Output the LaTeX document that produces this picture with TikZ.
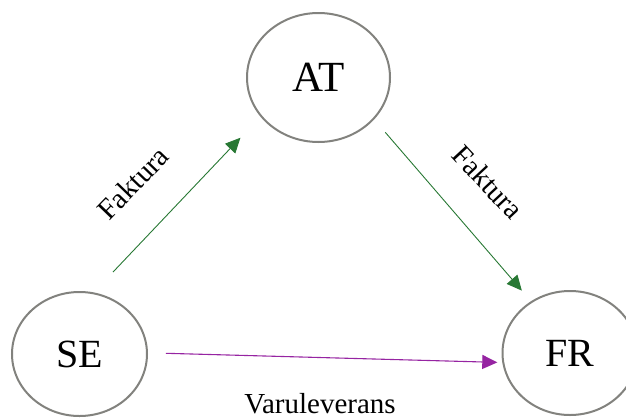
\documentclass[tikz,border=0pt]{standalone}
\usepackage{fontspec}
\setmainfont{Liberation Serif}
\usetikzlibrary{arrows.meta,shapes.geometric}

\definecolor{fakturagreen}{RGB}{40,120,52}
\definecolor{varupurple}{RGB}{150,36,162}
\definecolor{ringgray}{RGB}{130,130,126}

\begin{document}
\begin{tikzpicture}[x=1pt,y=-1pt,
    land/.style={ellipse,draw=ringgray,line width=2pt,inner sep=0pt,
      minimum width=135pt,minimum height=124pt,font=\fontsize{40}{48}\selectfont},
    flow/.style={font=\fontsize{29}{35}\selectfont},
    faktura/.style={draw=fakturagreen,line width=0.9pt,
      -{Triangle[length=15pt,width=14pt,fill=fakturagreen]}},
    varor/.style={draw=varupurple,line width=1.1pt,
      -{Triangle[length=15pt,width=14pt,fill=varupurple]}}]
  % Fix the page to the size of the reference
  \useasboundingbox (0,0) rectangle (626,418);

  % Draw the three countries
  \node[land,minimum width=143pt,minimum height=129pt,
    font=\fontsize{43}{50}\selectfont] (at) at (318.5,77.5) {AT};
  \node[land] (se) at (79.5,354) {SE};
  \node[land] (fr) at (570,353) {FR};

  % Draw the invoice arrows
  \draw[faktura,shorten <=28pt,shorten >=29pt] (se.77) -- (at.214);
  \draw[faktura,shorten <=17pt,shorten >=14pt] (at.323) -- (fr.127);

  % Draw the delivery arrow
  \draw[varor,shorten <=18pt,shorten >=5pt] (se.1) -- (fr.188);

  % Add the texts along the arrows
  \node[flow,rotate=46] (fakturaSE) at (133,183) {Faktura};
  \node[flow,rotate=-47] (fakturaFR) at (488,182) {Faktura};
  \node[flow,anchor=base] (varuleverans) at (320,413) {Varuleverans};
\end{tikzpicture}
\end{document}
